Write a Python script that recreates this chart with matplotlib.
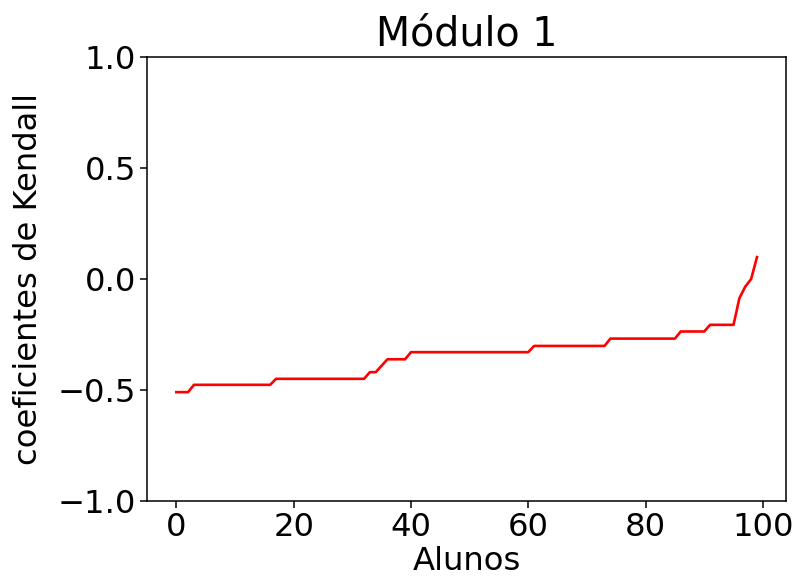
import matplotlib
matplotlib.use("Agg")
import matplotlib.pyplot as plt
import numpy as np

# sorted Kendall coefficients, one per student (100 students)
levels = [-0.510, -0.477, -0.450, -0.420, -0.391, -0.362, -0.330, -0.302,
          -0.269, -0.237, -0.207, -0.087, -0.035, -0.001, 0.098]
counts = [3, 14, 16, 2, 1, 4, 21, 13, 12, 5, 5, 1, 1, 1, 1]
kendall = np.repeat(levels, counts)
alunos = np.arange(len(kendall))

title = "Módulo 1"
xlabel = "Alunos"
ylabel = "coeficientes de Kendall"

fig = plt.figure(figsize=(7.98, 5.81), dpi=100)
ax = fig.add_axes([0.1846, 0.1377, 0.985 - 0.1846, 0.9024 - 0.1377])
ax.plot(alunos, kendall, color="red", linewidth=1.9)
ax.set_ylim(-1.0, 1.0)
ax.set_yticks([-1.0, -0.5, 0.0, 0.5, 1.0])
ax.set_xticks([0, 20, 40, 60, 80, 100])
ax.tick_params(labelsize=23.2, length=4.7, width=1.1)
ax.set_title(title, fontsize=28.5, pad=8)
ax.set_xlabel(xlabel, fontsize=23.2, labelpad=2)
ax.set_ylabel(ylabel, fontsize=23.2, labelpad=10)
for s in ax.spines.values():
    s.set_linewidth(1.1)
fig.savefig("out.png", dpi=100)
